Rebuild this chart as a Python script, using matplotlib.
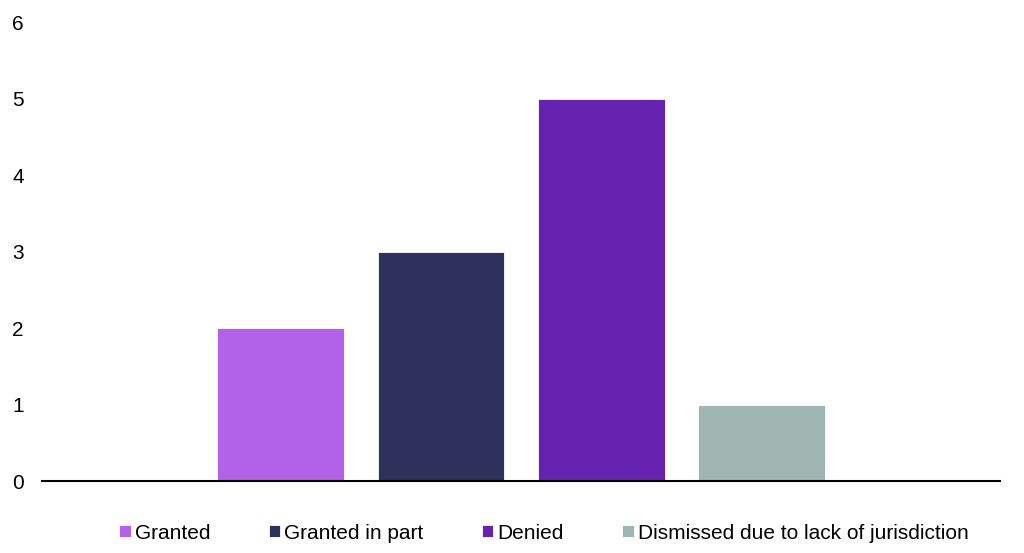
import matplotlib.pyplot as plt

# Data
categories = ['Granted', 'Granted in part', 'Denied', 'Dismissed due to lack of jurisdiction']
values = [2, 3, 5, 1]
colors = ['#B162E9', '#2F315D', '#6523B0', '#9EB5B2']

plt.rcParams['font.family'] = ['Liberation Sans', 'DejaVu Sans']

fig = plt.figure(figsize=(10.24, 5.53), dpi=100)
ax = fig.add_axes([0.041, 0.130, 0.936, 0.830])

for i, (cat, val, col) in enumerate(zip(categories, values, colors)):
    ax.bar(i, val, width=0.79, color=col, label=cat, edgecolor='white', linewidth=0.6)

ax.set_xlim(-1.49, 4.49)
ax.set_ylim(0, 6)
ax.set_yticks(range(0, 7))
ax.set_xticks([])
ax.tick_params(axis='y', length=0, pad=13, labelsize=15)

for s in ['top', 'right', 'left']:
    ax.spines[s].set_visible(False)
ax.spines['bottom'].set_color('black')
ax.spines['bottom'].set_linewidth(1.5)

ax.legend(loc='center', bbox_to_anchor=(0.531, 0.036), bbox_transform=fig.transFigure,
          ncol=4, frameon=False, fontsize=15, handlelength=0.55, handleheight=0.55,
          handletextpad=0.2, columnspacing=2.8)

fig.savefig('out.png', dpi=100)
